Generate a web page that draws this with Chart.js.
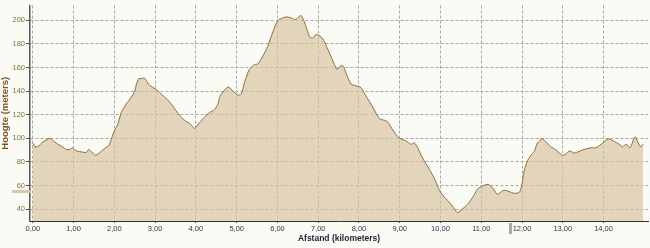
<!DOCTYPE html>
<html>
<head>
<meta charset="utf-8">
<script src="https://cdn.jsdelivr.net/npm/chart.js@4/dist/chart.umd.min.js"></script>
<style>
  html, body { margin: 0; padding: 0; background: #fbfbf6; }
  #wrap { width: 650px; height: 248px; position: relative; }
</style>
</head>
<body>
<div id="wrap"><canvas id="c"></canvas></div>
<script>
// Distance (km) along the route
const distanceKm = [
  0.00, 0.05, 0.12, 0.25, 0.41, 0.45, 0.57, 0.74, 0.82, 0.90, 0.97, 1.06, 1.23, 1.31, 1.37, 1.43, 1.51, 1.57, 1.68, 1.80,
  1.87, 1.93, 2.01, 2.09, 2.17, 2.29, 2.41, 2.50, 2.54, 2.60, 2.66, 2.72, 2.77, 2.83, 2.95, 3.07, 3.24, 3.36, 3.48, 3.60,
  3.72, 3.85, 3.97, 4.01, 4.09, 4.21, 4.34, 4.46, 4.54, 4.58, 4.66, 4.79, 4.91, 5.03, 5.11, 5.19, 5.31, 5.44, 5.52, 5.64,
  5.76, 5.89, 6.01, 6.09, 6.21, 6.34, 6.44, 6.52, 6.58, 6.66, 6.79, 6.87, 6.95, 7.07, 7.15, 7.28, 7.40, 7.46, 7.56, 7.62,
  7.68, 7.81, 7.93, 8.05, 8.17, 8.34, 8.50, 8.62, 8.70, 8.83, 8.99, 9.15, 9.27, 9.36, 9.44, 9.56, 9.73, 9.86, 9.98, 10.10,
  10.22, 10.34, 10.42, 10.54, 10.66, 10.79, 10.91, 11.03, 11.17, 11.27, 11.39, 11.47, 11.55, 11.68, 11.80, 11.93, 11.99, 12.05, 12.13, 12.21,
  12.30, 12.38, 12.50, 12.58, 12.70, 12.83, 12.99, 13.07, 13.17, 13.28, 13.40, 13.56, 13.69, 13.81, 13.98, 14.11, 14.23, 14.40, 14.47, 14.55,
  14.65, 14.77, 14.85, 14.92, 14.97
];
// Elevation (m)
const elevationM = [
  96, 93, 93, 97, 100, 99.5, 96, 92.5, 90.5, 90.5, 92, 89.5, 88.3, 88, 90.5, 89, 86, 86, 89, 92.5,
  94, 100, 107, 112.5, 122, 129, 134.7, 140, 145.8, 150.6, 150.6, 151, 150, 146, 143, 140, 134.7, 130.6, 125, 119.5,
  115.3, 112.5, 108.3, 109.7, 113.3, 118, 122, 124.5, 129, 134.7, 139, 143.5, 140, 136.7, 137.5, 147, 158.3, 162.5, 163, 169.5,
  177.8, 190.3, 200, 201.4, 202.8, 202, 200.5, 202.8, 204, 198.6, 186, 185, 188, 186, 182, 172, 162.5, 158.3, 161.7, 161,
  155.6, 145.8, 144.5, 143, 136, 126.4, 116.7, 115.3, 114, 107, 100, 98, 95, 96, 92, 83.3, 73.6, 65.3, 55.6, 50,
  45.8, 40.3, 37, 40.3, 43.9, 50, 57, 59.7, 61, 58.3, 52.8, 54.2, 56, 55, 53.5, 54.2, 59.7, 72.2, 80.6, 85.3,
  89, 96, 99.6, 97.3, 93, 90.3, 85.6, 86.7, 89.4, 87.5, 89, 91, 92, 92, 96, 99.6, 98, 94.6, 92.8, 95,
  92, 101.4, 96, 92.8, 95
];
// Tick values
const xTicks = [0, 1, 2, 3, 4, 5, 6, 7, 8, 9, 10, 11, 12, 13, 14];
const yTicks = [40, 60, 80, 100, 120, 140, 160, 180, 200];
// Slider markers of the original viewer
const xMarkerKm = 11.70;
const yMarkerM = 55;

const markerPlugin = {
  id: 'markers',
  afterDraw(chart) {
    const { ctx, scales: { x, y }, chartArea } = chart;
    ctx.save();
    const mx = x.getPixelForValue(xMarkerKm);
    ctx.fillStyle = '#a9a9a9';
    ctx.fillRect(Math.round(mx) - 1, chartArea.bottom + 2, 3, 11);
    const my = y.getPixelForValue(yMarkerM);
    ctx.fillStyle = '#d9c9aa';
    ctx.fillRect(12, Math.round(my) - 1, chartArea.left - 12, 3);
    ctx.restore();
  }
};

const fmt = v => v.toFixed(2).replace('.', ',');

new Chart(document.getElementById('c'), {
  type: 'line',
  data: {
    datasets: [{
      data: distanceKm.map((d, i) => ({ x: d, y: elevationM[i] })),
      borderColor: '#8b6c3e',
      borderWidth: 1,
      backgroundColor: 'rgba(214,194,160,0.68)',
      fill: 'start',
      pointRadius: 0,
      tension: 0.25
    }]
  },
  options: {
    responsive: true,
    maintainAspectRatio: false,
    animation: false,
    layout: { padding: { top: 2, right: 2, left: 0, bottom: 0 } },
    plugins: { legend: { display: false }, tooltip: { enabled: false } },
    scales: {
      x: {
        type: 'linear',
        min: -0.07,
        max: 15.09,
        afterBuildTicks: s => { s.ticks = xTicks.map(v => ({ value: v })); },
        afterFit: s => { s.height = 27; },
        ticks: {
          callback: v => fmt(v),
          color: '#2b3550',
          font: { family: 'Liberation Sans', size: 7.5 },
          padding: 1,
          maxRotation: 0,
          autoSkip: false
        },
        grid: {
          color: '#a9a9a2',
          tickLength: 2,
          tickColor: '#555',
          drawTicks: true
        },
        border: { color: '#333', width: 1, dash: [3, 2] },
        title: {
          display: true,
          text: 'Afstand (kilometers)',
          color: '#1c2233',
          font: { family: 'Liberation Sans', size: 8.5, weight: 'bold' },
          padding: { top: 0, bottom: 4 }
        }
      },
      y: {
        min: 30,
        max: 212.5,
        afterBuildTicks: s => { s.ticks = yTicks.map(v => ({ value: v })); },
        afterFit: s => { s.width = 30; },
        ticks: {
          color: '#8c6d3f',
          font: { family: 'Liberation Sans', size: 7.5 },
          padding: 1
        },
        grid: {
          color: '#a9a9a2',
          tickLength: 4,
          tickColor: '#555'
        },
        border: { color: '#555', width: 1.5, dash: [3, 2] },
        title: {
          display: true,
          text: 'Hoogte (meters)',
          color: '#7a5524',
          font: { family: 'Liberation Sans', size: 9.5, weight: 'bold' },
          padding: { top: 0, bottom: 0 }
        }
      }
    }
  },
  plugins: [markerPlugin]
});
</script>
</body>
</html>
